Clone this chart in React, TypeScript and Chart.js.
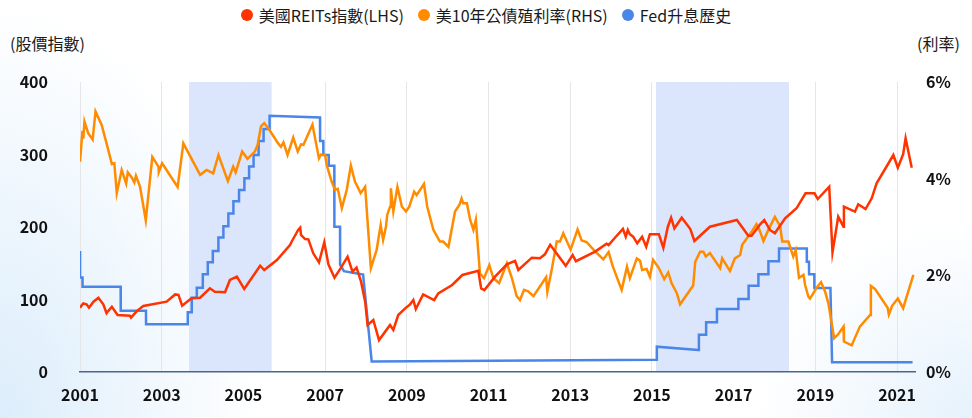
import React, { useEffect, useRef } from 'react';
import { Chart, registerables } from 'chart.js';

Chart.register(...registerables);

const LEGEND_LABELS = ['美國REITs指數(LHS)', '美10年公債殖利率(RHS)', 'Fed升息歷史'];
const LEFT_TITLE = '(股價指數)';
const RIGHT_TITLE = '(利率)';
const X_TICKS = [2001, 2003, 2005, 2007, 2009, 2011, 2013, 2015, 2017, 2019, 2021];
const SHADED_PERIODS = [
  [2003.67, 2005.69],
  [2015.1, 2018.355],
];

// 美國REITs指數 (left axis)
const REIT_X = [
  2001.0, 2001.08, 2001.16, 2001.22, 2001.33, 2001.45, 2001.57, 2001.65, 2001.69, 2001.78, 2001.92,
  2002.22, 2002.25, 2002.39, 2002.55, 2003.12, 2003.33, 2003.41, 2003.5, 2003.73, 2003.94,
  2004.18, 2004.3, 2004.55, 2004.67, 2004.84, 2005.02, 2005.41, 2005.51, 2005.82,
  2006.14, 2006.18, 2006.34, 2006.39, 2006.41, 2006.51, 2006.59, 2006.71, 2006.85, 2006.98,
  2007.08, 2007.23, 2007.39, 2007.55, 2007.67, 2007.77, 2007.88, 2007.98,
  2008.04, 2008.18, 2008.32, 2008.59, 2008.67, 2008.79, 2008.96,
  2009.08, 2009.16, 2009.22, 2009.4, 2009.67, 2009.77, 2010.11, 2010.36, 2010.75, 2010.82, 2010.9,
  2011.16, 2011.45, 2011.65, 2011.73, 2012.06, 2012.26, 2012.38, 2012.51, 2012.89,
  2013.06, 2013.14, 2013.61, 2013.89, 2013.94, 2014.1, 2014.29, 2014.36, 2014.41, 2014.46, 2014.54,
  2014.64, 2014.76, 2014.86, 2014.95, 2015.17, 2015.28, 2015.39, 2015.47, 2015.55, 2015.73, 2015.94,
  2016.04, 2016.42, 2017.08, 2017.36, 2017.44, 2017.65, 2017.75, 2017.89, 2018.01, 2018.26, 2018.54,
  2018.76, 2018.98, 2019.06, 2019.34, 2019.42, 2019.56, 2019.69, 2019.7, 2019.97, 2020.05, 2020.23,
  2020.38, 2020.5, 2020.91, 2021.02, 2021.15, 2021.21, 2021.36,
];
const REIT_Y = [
  88.7, 94.7, 93.3, 88.7, 97, 102.5, 93.3, 81, 84, 90, 78.6,
  77.7, 75, 84, 91, 97, 107, 106.5, 91.5, 101.6, 102.5,
  115.4, 110.8, 110, 127, 131.5, 114.5, 146.6, 140.7, 154.5,
  175, 179.7, 195.9, 199, 189, 183.4, 183, 163.7, 151.3, 178.9,
  148.6, 130, 143.9, 159, 138.3, 143.9, 124.6, 97,
  64.8, 71.7, 44, 64.8, 58, 78.6, 87.8,
  93.3, 99.3, 86.9, 107, 99.3, 108.5, 120, 133.8, 139.7, 115.4, 113,
  131.5, 148.5, 153.3, 140.7, 157.7, 156.8, 162.3, 175.5, 146.4,
  161.4, 152.8, 166, 177, 175, 185.5, 197.5, 186.6, 195.9, 190, 186.6,
  177.5, 186.6, 172.8, 190, 190, 171.4, 200.4, 212.8, 198.2, 212.8, 197.2,
  180.7, 200.4, 209.7, 188, 188, 203.7, 209.7, 195.9, 191.3, 212, 225.8,
  246.5, 246.5, 238.6, 255.6, 165, 214.2, 200.4, 228, 221.1, 231.3, 224.8,
  239.6, 260.3, 299.3, 281.8, 300.3, 322.3, 281.8,
];

// 美10年公債殖利率 (right axis, %)
const YIELD_X = [
  2001.0, 2001.06, 2001.08, 2001.11, 2001.2, 2001.31, 2001.38, 2001.53, 2001.65, 2001.78, 2001.84, 2001.9,
  2002.02, 2002.13, 2002.17, 2002.27, 2002.33, 2002.37, 2002.47, 2002.61, 2002.77, 2002.92, 2002.93,
  2003.01, 2003.39, 2003.53, 2003.94, 2004.1, 2004.26, 2004.39, 2004.62, 2004.75, 2004.81, 2004.97,
  2005.1, 2005.28, 2005.35, 2005.43, 2005.51, 2005.65, 2005.85, 2005.92, 2005.98,
  2006.08, 2006.22, 2006.33, 2006.41, 2006.47, 2006.69, 2006.85, 2006.9,
  2007.0, 2007.04, 2007.16, 2007.24, 2007.31, 2007.41, 2007.53, 2007.63, 2007.73, 2007.87, 2007.98,
  2008.12, 2008.26, 2008.36, 2008.42, 2008.49, 2008.52, 2008.59, 2008.61, 2008.67, 2008.77, 2008.88, 2008.98,
  2009.06, 2009.18, 2009.24, 2009.42, 2009.5, 2009.65, 2009.81, 2009.89,
  2010.02, 2010.18, 2010.29, 2010.34, 2010.38, 2010.47, 2010.55, 2010.63, 2010.69, 2010.79, 2010.89,
  2011.02, 2011.12, 2011.26, 2011.45, 2011.57, 2011.69, 2011.77, 2011.87, 2011.97,
  2012.1, 2012.41, 2012.44, 2012.55, 2012.67, 2012.75, 2012.83,
  2013.01, 2013.18, 2013.28, 2013.4, 2013.58, 2013.81, 2013.94,
  2014.04, 2014.26, 2014.39, 2014.46, 2014.63, 2014.71, 2014.76, 2014.87, 2014.95,
  2015.03, 2015.17, 2015.3, 2015.4, 2015.48, 2015.61, 2015.69,
  2016.01, 2016.06, 2016.18, 2016.26, 2016.32, 2016.42, 2016.67, 2016.72, 2016.91,
  2017.03, 2017.16, 2017.21, 2017.44, 2017.56, 2017.62, 2017.73, 2017.85,
  2018.01, 2018.14, 2018.19, 2018.34, 2018.46, 2018.52, 2018.6, 2018.71, 2018.75, 2018.83, 2018.87,
  2019.03, 2019.14, 2019.24, 2019.32, 2019.46, 2019.56, 2019.69, 2019.7, 2019.89,
  2020.09, 2020.34, 2020.36, 2020.46, 2020.77, 2020.8, 2020.88, 2021.02, 2021.15, 2021.4,
];
const YIELD_Y = [
  4.35, 4.99, 4.83, 5.18, 4.94, 4.81, 5.39, 5.11, 4.73, 4.3, 4.32, 3.7,
  4.18, 3.9, 4.13, 4.02, 3.92, 4.06, 3.83, 3.14, 4.45, 4.25, 4.14,
  4.32, 3.83, 4.73, 4.08, 4.18, 4.11, 4.49, 3.95, 4.25, 4.13, 4.56,
  4.41, 4.56, 4.7, 5.08, 5.15, 4.99, 4.73, 4.66, 4.75,
  4.49, 4.85, 4.56, 4.71, 4.7, 5.12, 4.42, 4.5,
  4.49, 4.28, 3.94, 3.77, 3.79, 3.39, 3.77, 4.27, 3.94, 3.7, 3.83,
  2.15, 2.52, 3.04, 2.73, 3.01, 3.25, 3.42, 3.8, 3.32, 3.83, 3.42, 3.32,
  3.42, 3.73, 3.66, 3.89, 3.42, 2.94, 2.7, 2.7,
  2.59, 3.32, 3.46, 3.59, 3.49, 3.49, 3.15, 2.94, 3.15, 2.04, 1.94,
  2.21, 1.94, 1.84, 2.25, 1.95, 1.57, 1.49, 1.7, 1.67,
  1.57, 1.96, 1.66, 2.13, 2.7, 2.7, 2.87,
  2.53, 2.95, 2.72, 2.69, 2.52, 2.33, 2.48,
  2.19, 1.7, 2.18, 1.94, 2.35, 2.3, 2.11, 2.13, 1.97,
  2.32, 2.15, 1.92, 2.06, 1.84, 1.63, 1.4,
  1.79, 2.28, 2.49, 2.49, 2.39, 2.46, 2.15, 2.35, 2.09,
  2.35, 2.42, 2.63, 2.9, 3.06, 2.97, 2.71, 2.94,
  3.21, 3.01, 2.7, 2.7, 2.39, 2.52, 1.95, 2.01, 1.8, 1.56, 1.52,
  1.74, 1.86, 1.66, 1.42, 0.7, 0.78, 0.94, 0.63, 0.55,
  0.94, 1.18, 1.78, 1.72, 1.33, 1.19, 1.37, 1.52, 1.32, 2.01,
];

// Fed升息歷史 (drawn against the left axis)
const FED_X = [
  2001.0, 2001.002, 2001.06, 2001.062, 2001.995, 2001.997, 2002.615, 2002.617,
  2003.636, 2003.638, 2003.734, 2003.736, 2003.857, 2003.859, 2004.004, 2004.006,
  2004.126, 2004.128, 2004.249, 2004.251, 2004.386, 2004.388, 2004.508, 2004.51,
  2004.63, 2004.632, 2004.753, 2004.755, 2004.892, 2004.894, 2005.022, 2005.024,
  2005.137, 2005.139, 2005.247, 2005.249, 2005.37, 2005.372, 2005.492, 2005.494,
  2005.639, 2005.641, 2006.875, 2006.877, 2006.955, 2006.957, 2007.088, 2007.09,
  2007.225, 2007.227, 2007.365, 2007.367, 2007.46, 2007.93, 2008.14,
  2015.1, 2015.12, 2016.135, 2016.15, 2016.325, 2016.327, 2016.59, 2016.592,
  2017.115, 2017.117, 2017.365, 2017.367, 2017.605, 2017.607, 2017.85, 2017.852,
  2018.11, 2018.112, 2018.79, 2018.792, 2018.845, 2018.847, 2018.975, 2018.977,
  2019.37, 2019.41, 2021.38,
];
const FED_Y = [
  167, 130.5, 130.5, 117.7, 117.7, 84.5, 84.5, 65.7,
  65.7, 82.3, 82.3, 102.5, 102.5, 116.3, 116.3, 134.7,
  134.7, 151.3, 151.3, 166.9, 166.9, 185.5, 185.5, 200.9,
  200.9, 218.5, 218.5, 235.5, 235.5, 251, 251, 267.1,
  267.1, 283.5, 283.5, 299.3, 299.3, 318.6, 318.6, 335.2,
  335.2, 353.5, 351, 318.5, 318.5, 299.3, 299.3, 284.5,
  284.5, 200.4, 200.4, 148, 139, 134.3, 14.5,
  16.8, 34.9, 30.5, 51.5, 51.5, 68.5, 68.5, 86.9,
  86.9, 100.7, 100.7, 118.8, 118.8, 135, 135, 152.6,
  152.6, 170.5, 170.5, 152.1, 152.1, 135, 135, 116,
  116, 13.5, 13.5,
];

const COLORS = ['#ff3300', '#ff8c00', '#4a86e8'];
const SHADE_COLOR = '#dbe5fb';
const FONT = "'Noto Sans CJK TC', 'Noto Sans', sans-serif";

const toPoints = (xs: number[], ys: number[]) => xs.map((x, i) => ({ x, y: ys[i] }));

const shadePlugin = {
  id: 'shadePeriods',
  beforeDraw(chart: any) {
    const { ctx, chartArea, scales } = chart;
    const xs = scales.x;
    ctx.save();
    ctx.fillStyle = SHADE_COLOR;
    for (const [a, b] of SHADED_PERIODS) {
      const x0 = xs.getPixelForValue(a);
      const x1 = xs.getPixelForValue(b);
      ctx.fillRect(x0, chartArea.top, x1 - x0, chartArea.bottom - chartArea.top);
    }
    ctx.restore();
  },
};

export default function App() {
  const canvasRef = useRef<HTMLCanvasElement | null>(null);

  useEffect(() => {
    if (!canvasRef.current) return;
    const chart = new Chart(canvasRef.current, {
      type: 'line',
      data: {
        datasets: [
          {
            label: LEGEND_LABELS[0],
            data: toPoints(REIT_X, REIT_Y),
            borderColor: COLORS[0],
            backgroundColor: COLORS[0],
            borderWidth: 2.5,
            pointRadius: 0,
            tension: 0,
            yAxisID: 'y',
          },
          {
            label: LEGEND_LABELS[1],
            data: toPoints(YIELD_X, YIELD_Y),
            borderColor: COLORS[1],
            backgroundColor: COLORS[1],
            borderWidth: 2.5,
            pointRadius: 0,
            tension: 0,
            yAxisID: 'y1',
          },
          {
            label: LEGEND_LABELS[2],
            data: toPoints(FED_X, FED_Y),
            borderColor: COLORS[2],
            backgroundColor: COLORS[2],
            borderWidth: 2.5,
            pointRadius: 0,
            tension: 0,
            yAxisID: 'y',
          },
        ],
      },
      options: {
        animation: false,
        responsive: false,
        devicePixelRatio: 1,
        layout: { padding: { top: 82, bottom: 0, left: 0, right: 0 } },
        plugins: {
          legend: { display: false },
          tooltip: { enabled: false },
        },
        scales: {
          x: {
            type: 'linear',
            min: 2001,
            max: 2021.44,
            afterBuildTicks: (scale: any) => {
              scale.ticks = X_TICKS.map((v) => ({ value: v }));
            },
            afterFit: (scale: any) => {
              scale.height = 46;
            },
            ticks: {
              autoSkip: false,
              maxRotation: 0,
              padding: 13,
              color: '#111',
              font: { family: FONT, size: 16, weight: 'bold' },
              callback: (v: any) => String(v),
            },
            grid: { color: '#e6e6e6', lineWidth: 1, drawTicks: false },
            border: { display: true, color: '#4a6690', width: 1.5 },
          },
          y: {
            position: 'left',
            min: 0,
            max: 400,
            afterFit: (scale: any) => {
              scale.width = 80;
            },
            ticks: {
              stepSize: 100,
              padding: 32,
              color: '#111',
              font: { family: FONT, size: 16, weight: 'bold' },
            },
            grid: { display: false, drawTicks: false },
            border: { display: false },
          },
          y1: {
            position: 'right',
            min: 0,
            max: 6,
            afterFit: (scale: any) => {
              scale.width = 57;
            },
            ticks: {
              stepSize: 2,
              padding: 11,
              color: '#111',
              font: { family: FONT, size: 16, weight: 'bold' },
              callback: (v: any) => `${v}%`,
            },
            grid: { display: false, drawTicks: false },
            border: { display: false },
          },
        },
      },
      plugins: [shadePlugin],
    } as any);
    return () => chart.destroy();
  }, []);

  return (
    <div
      style={{
        position: 'fixed',
        left: 0,
        top: 0,
        width: 972,
        height: 418,
        overflow: 'hidden',
        background:
          'radial-gradient(ellipse 260px 420px at 0% 100%, #dcedfb, rgba(255,255,255,0)), radial-gradient(ellipse 220px 200px at 100% 100%, #e6f2fc, rgba(255,255,255,0)), #ffffff',
        fontFamily: FONT,
      }}
    >
      <div
        style={{
          position: 'absolute',
          top: 5,
          left: 0,
          width: 972,
          display: 'flex',
          justifyContent: 'center',
          alignItems: 'center',
          gap: 14,
          fontSize: 16,
          lineHeight: '20px',
          color: '#1a1a1a',
        }}
      >
        {LEGEND_LABELS.map((label, i) => (
          <div key={label} style={{ display: 'flex', alignItems: 'center', gap: 6 }}>
            <span
              style={{
                display: 'inline-block',
                width: 12,
                height: 12,
                borderRadius: '50%',
                background: COLORS[i],
              }}
            />
            <span>{label}</span>
          </div>
        ))}
      </div>
      <div style={{ position: 'absolute', top: 33, left: 10, fontSize: 16, lineHeight: '20px', color: '#1a1a1a' }}>
        {LEFT_TITLE}
      </div>
      <div style={{ position: 'absolute', top: 33, left: 917, fontSize: 16, lineHeight: '20px', color: '#1a1a1a' }}>
        {RIGHT_TITLE}
      </div>
      <canvas ref={canvasRef} width={972} height={418} style={{ position: 'absolute', left: 0, top: 0 }} />
    </div>
  );
}
